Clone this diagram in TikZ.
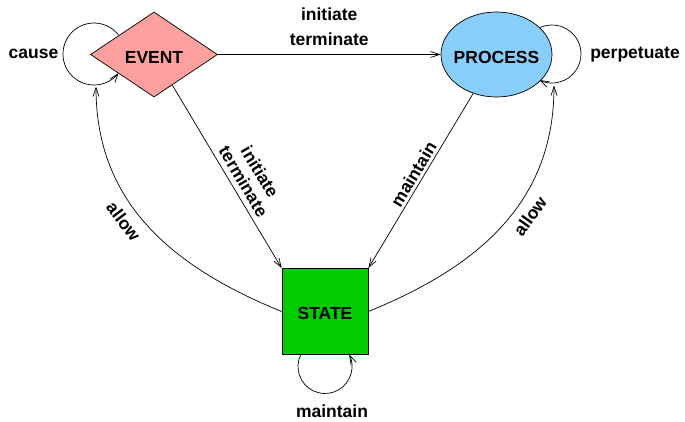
\documentclass[tikz,border=0pt]{standalone}
\usepackage{fontspec}
\setmainfont{Liberation Sans}
\usetikzlibrary{shapes.geometric,arrows.meta}
\definecolor{evpink}{RGB}{255,160,160}
\definecolor{prblue}{RGB}{135,206,250}
\definecolor{stgreen}{RGB}{0,204,0}
\begin{document}
\begin{tikzpicture}[x=1pt,y=1pt,
  lbl/.style={font=\bfseries\fontsize{17.5}{25}\selectfont, align=center, inner sep=2pt},
  lbltight/.style={font=\bfseries\fontsize{17.5}{19}\selectfont, align=center, inner sep=2pt},
  arr/.style={line width=0.7pt, -{Straight Barb[length=9pt,width=6pt]}},
  nd/.style={draw, line width=0.7pt, inner sep=0pt},
  ndtext/.style={font=\bfseries\fontsize{17.5}{21}\selectfont, inner sep=0pt},
]
\useasboundingbox (0,0) rectangle (685,-421);
\fill[white] (0,0) rectangle (685,-421);

% nodes
\node[nd, diamond, fill=evpink, minimum width=127pt, minimum height=85pt,
      label={[ndtext, yshift=-2.5pt]center:EVENT}] (EVENT) at (154,-54.5) {};
\node[nd, ellipse, fill=prblue, minimum width=111pt, minimum height=85pt,
      label={[ndtext, yshift=-2.5pt]center:PROCESS}] (PROCESS) at (496.5,-54.5) {};
\node[nd, rectangle, fill=stgreen, minimum width=86pt, minimum height=86pt,
      label={[ndtext, yshift=-1.5pt]center:STATE}] (STATE) at (325,-311.5) {};

% loop anchor coordinates
\coordinate (causeS) at (118.6,-35.2);
\coordinate (perpS) at (539.3,-27.9);
\coordinate (mainS) at (300.8,-354.5);
\coordinate (evIn) at (96,-86.5);
\coordinate (prIn) at (554,-85.5);

% straight connectors
\draw[arr] (EVENT.east) -- (PROCESS.west)
  node[lbl, midway, above=6pt] {initiate\\terminate};
\draw[arr] (EVENT) -- (STATE.north west)
  node[lbltight, pos=0.56, sloped, above=3pt] {initiate\\terminate};
\draw[arr] (PROCESS) -- (STATE.north east)
  node[lbl, pos=0.49, sloped, above=1pt] {maintain};

% curved connectors
\draw[arr] (STATE.west) .. controls (171,-266.5) and (96,-202) .. (evIn)
  node[lbl, pos=0.56, sloped, below=7pt] {allow};
\draw[arr] (STATE.east) .. controls (479,-266.5) and (554,-202) .. (prIn)
  node[lbl, pos=0.58, sloped, below=7pt] {allow};

% self loops
\draw[arr] (causeS) arc[start angle=37.4, end angle=322.6, radius=31pt];
\draw[arr] (perpS) arc[start angle=116, end angle=-116, radius=29pt];
\draw[arr] (mainS) arc[start angle=153.6, end angle=386.4, radius=27pt];

% loop labels
\node[lbl] (causeL) at (33.5,-54) {cause};
\node[lbl] (perpL) at (635,-55) {perpetuate};
\node[lbl] (mainL) at (332,-411.5) {maintain};
\end{tikzpicture}
\end{document}
